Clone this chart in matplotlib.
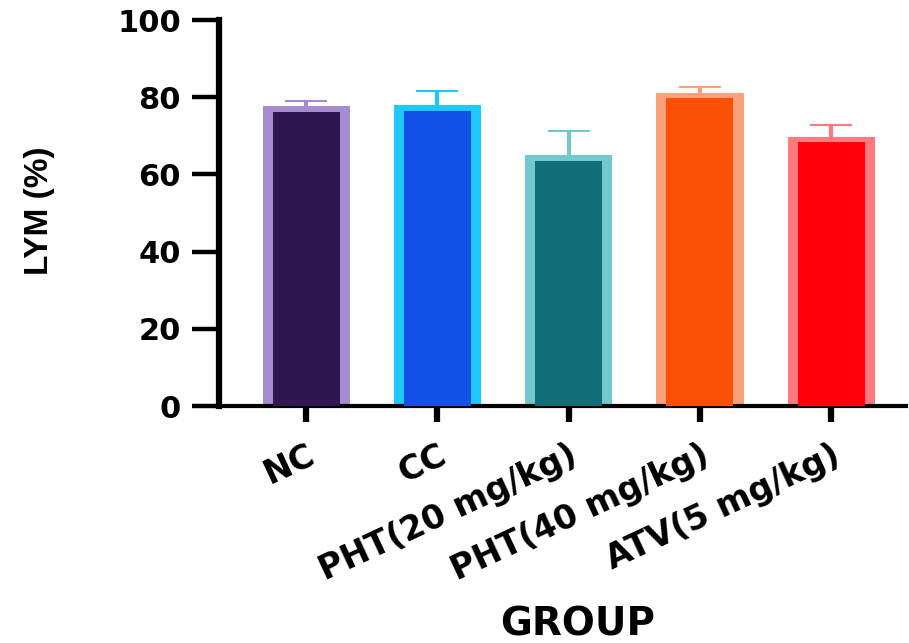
import matplotlib
matplotlib.use("Agg")
import matplotlib.pyplot as plt
import matplotlib.transforms as mtransforms
import numpy as np

plt.rcParams['font.family'] = ['DejaVu Sans']

groups = ["NC", "CC", "PHT(20 mg/kg)", "PHT(40 mg/kg)", "ATV(5 mg/kg)"]
means = [77.7, 78.0, 65.0, 81.2, 69.8]
errors = [1.4, 3.7, 6.3, 1.5, 3.0]
edge_colors = ["#A58BD0", "#1EC8FA", "#72C8CE", "#FAA07A", "#FF7A7F"]
fill_colors = ["#2E1650", "#1450E6", "#116E78", "#FA5005", "#FF0008"]
yticks = [0, 20, 40, 60, 80, 100]

fig = plt.figure(figsize=(9.09, 6.43), dpi=100)
ax = fig.add_axes([219/909, 1-406/643, (906-219)/909, (406-20)/643])

x = np.arange(len(groups))
top_border = 1.45
for i in range(len(groups)):
    eb = ax.errorbar(x[i], means[i], yerr=[[0], [errors[i]]], fmt='none',
                     ecolor=edge_colors[i], elinewidth=3.0, capsize=15.4,
                     capthick=1.5, zorder=1)
    eb[1][0].set_visible(False)  # hide the lower cap
    ax.bar(x[i], means[i], width=0.664, color=edge_colors[i], linewidth=0, zorder=2)
    ax.bar(x[i], means[i] - top_border, width=0.511, color=fill_colors[i],
           linewidth=0, zorder=3)

ax.set_xlim(-0.664, 4.57)
ax.set_ylim(0, 100)
ax.set_yticks(yticks)
ax.set_yticklabels([str(v) for v in yticks], fontsize=22, fontweight='bold')
ax.set_xticks(x)
ax.set_xticklabels(groups, fontsize=24, fontweight='bold', rotation=25,
                   ha='right', va='top', rotation_mode='anchor')
offset = mtransforms.ScaledTranslation(12/100, 0, fig.dpi_scale_trans)
for lab in ax.get_xticklabels():
    lab.set_transform(lab.get_transform() + offset)

for s in ['top', 'right']:
    ax.spines[s].set_visible(False)
ax.spines['left'].set_linewidth(4.5)
ax.spines['bottom'].set_linewidth(3)
ax.tick_params(axis='y', length=19.5, width=3.2, pad=8)
ax.tick_params(axis='x', length=11.5, width=4.5, pad=12)

ax.set_ylabel("LYM (%)", fontsize=24, fontweight='bold', family='Liberation Sans')
ax.yaxis.set_label_coords(-0.239, 0.506)
fig.text(578/909, 1-624/643, "GROUP", fontsize=28, fontweight='bold',
         ha='center', va='center')

fig.savefig("out.png", dpi=100)
